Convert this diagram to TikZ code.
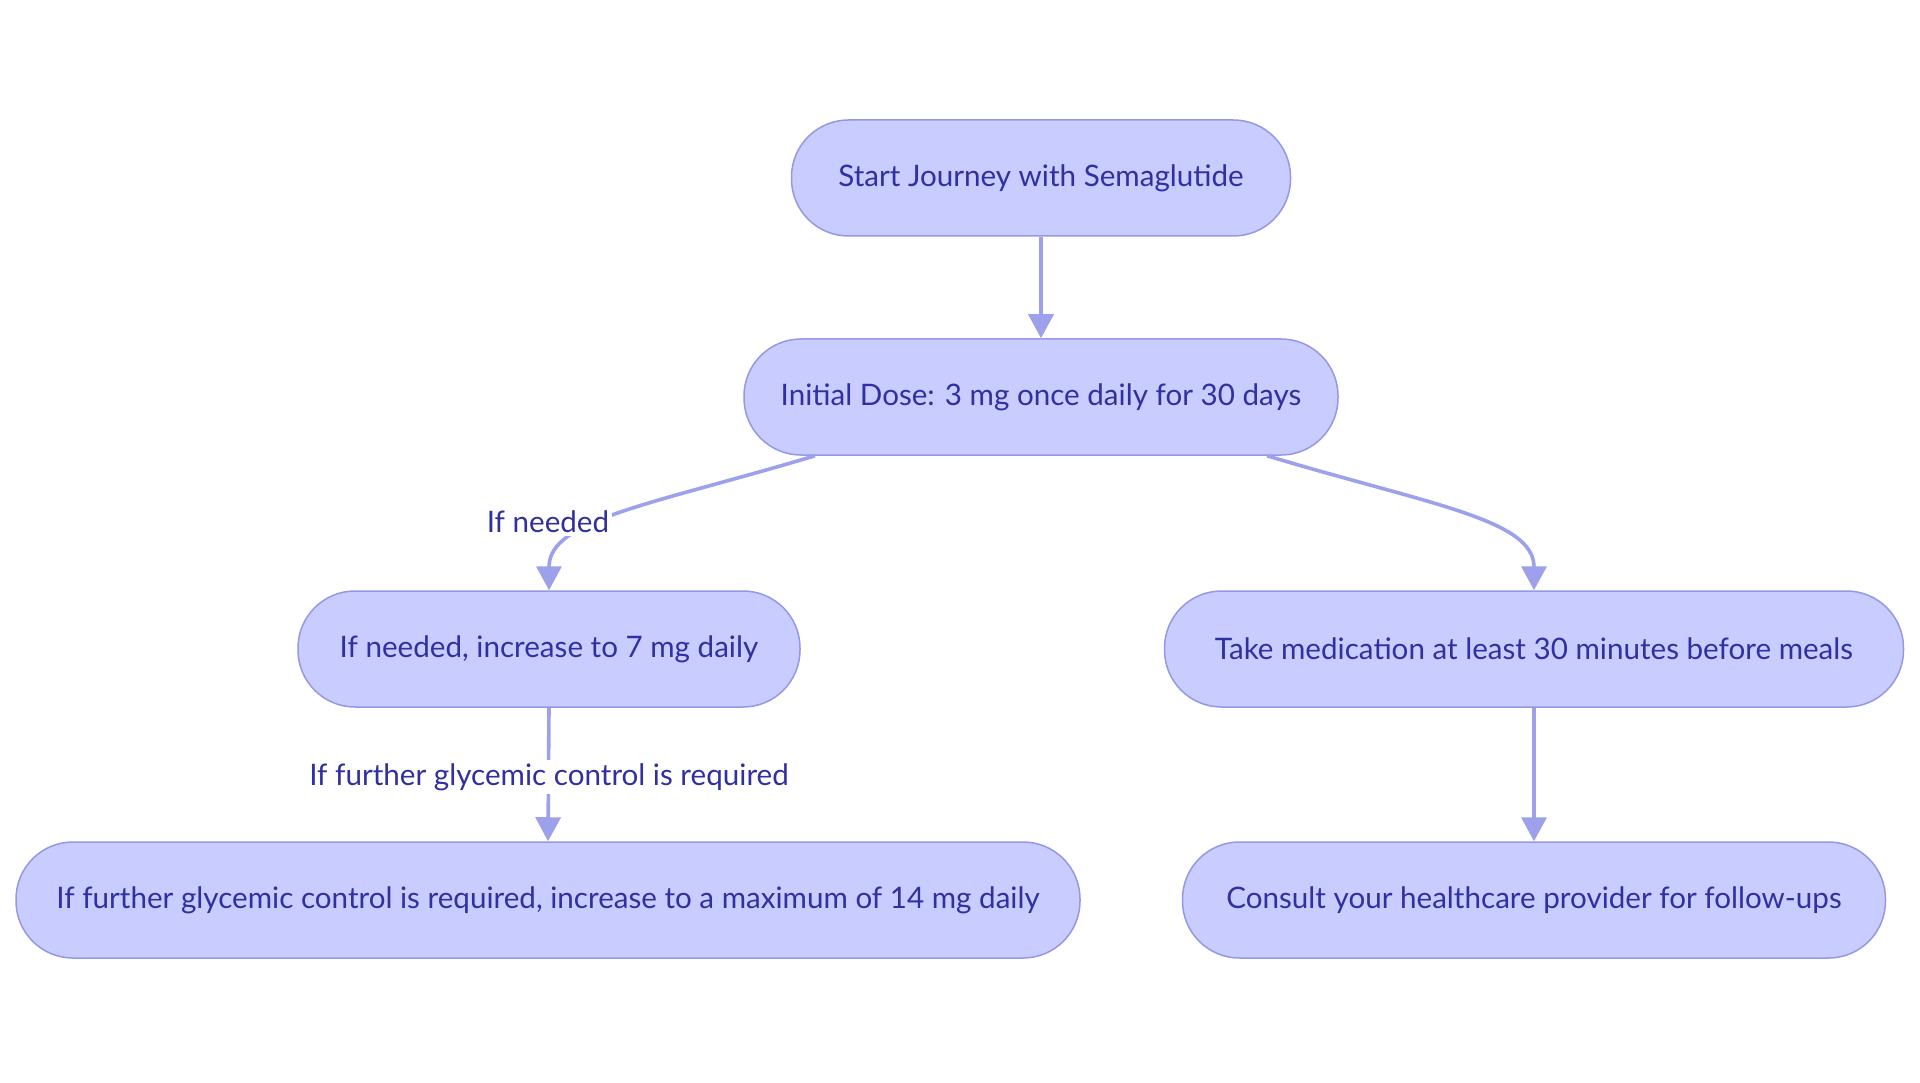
\documentclass[tikz,border=0pt]{standalone}
\usepackage{fontspec}
\setmainfont{Lato}
\usetikzlibrary{arrows.meta}
\definecolor{nodefill}{RGB}{200,204,255}
\definecolor{nodeline}{RGB}{150,152,228}
\definecolor{edgecol}{RGB}{157,160,235}
\definecolor{txtcol}{RGB}{48,48,160}
\tikzset{
  flowbox/.style={draw=nodeline, line width=1.5pt, fill=nodefill, rounded corners=57pt,
    minimum height=116pt, text=txtcol, inner sep=0pt,
    font=\fontsize{29.6}{36}\selectfont},
  flowedge/.style={draw=edgecol, line width=3.6pt,
    -{Triangle[width=25pt,length=24pt]}},
  edgelabel/.style={fill=white, text=txtcol, inner sep=3pt,
    font=\fontsize{29.6}{36}\selectfont}
}
\begin{document}
\begin{tikzpicture}[x=1pt,y=-1pt]
\useasboundingbox (0,0) rectangle (1920,1083);
\fill[white] (0,0) rectangle (1920,1083);
\node[flowbox, minimum width=499pt] (n1) at (1041,178) {Start Journey with Semaglutide};
\node[flowbox, minimum width=594pt] (n2) at (1041,397) {Initial Dose: 3 mg once daily for 30 days};
\node[flowbox, minimum width=502pt] (n3) at (549,649) {If needed, increase to 7 mg daily};
\node[flowbox, minimum width=739pt] (n4) at (1534,649) {Take medication at least 30 minutes before meals};
\node[flowbox, minimum width=1064pt] (n5) at (548,900) {If further glycemic control is required, increase to a maximum of 14 mg daily};
\node[flowbox, minimum width=703pt] (n6) at (1534,900) {Consult your healthcare provider for follow-ups};
\coordinate (s3) at ([xshift=-226pt]n2.south);
\coordinate (s4) at ([xshift=226pt]n2.south);
\draw[flowedge] (n1.south) -- (n2.north);
\draw[flowedge] (s3) .. controls +(-163,49) and +(0,-71) .. (n3.north);
\draw[flowedge] (s4) .. controls +(163,49) and +(0,-71) .. (n4.north);
\draw[flowedge] (n3.south) -- (n5.north);
\draw[flowedge] (n4.south) -- (n6.north);
\node[edgelabel] (l1) at (548,522) {If needed};
\node[edgelabel] (l2) at (549,777) {If further glycemic control is required};
\end{tikzpicture}
\end{document}
